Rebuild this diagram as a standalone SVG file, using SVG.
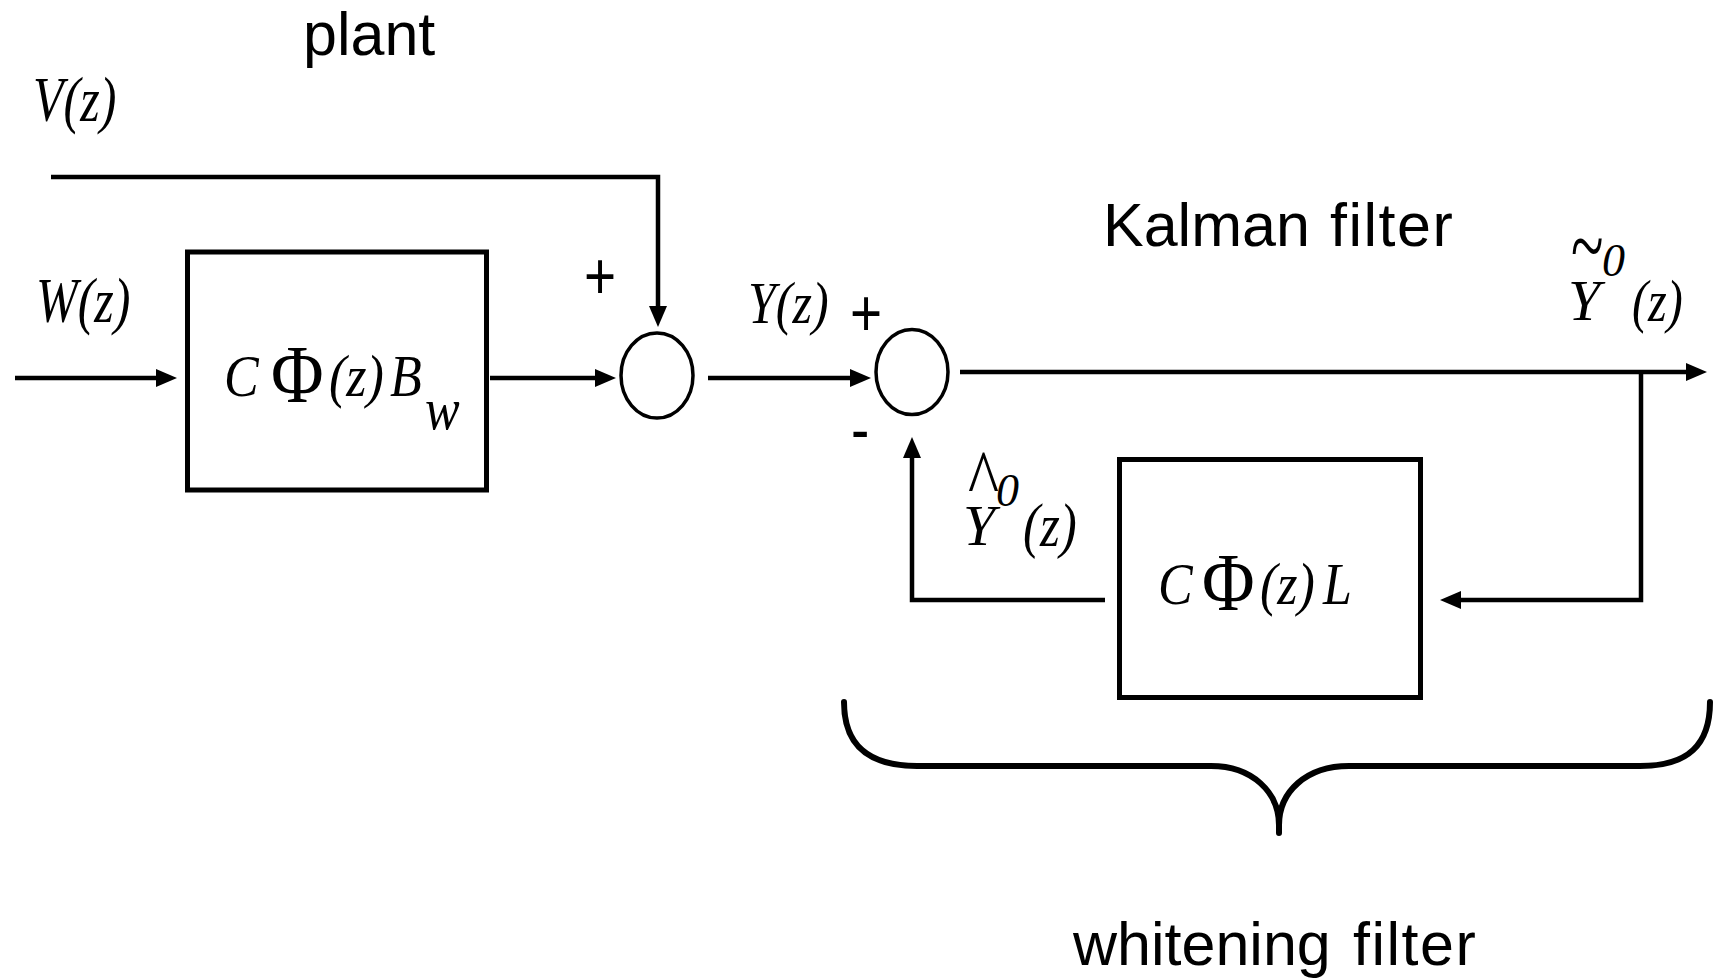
<svg xmlns="http://www.w3.org/2000/svg" width="1716" height="978" viewBox="0 0 1716 978">
<style>
.ln{stroke:#000;stroke-width:4.5;fill:none;stroke-linejoin:miter}
.bx{fill:#fff;stroke:#000;stroke-width:5}
.sum{fill:#fff;stroke:#000;stroke-width:3.5}
.br{fill:none;stroke:#000;stroke-width:6;stroke-linecap:round}
.sans{font-family:"Liberation Sans",Arial,sans-serif;fill:#000}
.m{font-family:"Liberation Serif","Times New Roman",serif;font-style:italic;fill:#000}
.u{font-family:"Liberation Serif","Times New Roman",serif;fill:#000}
</style>
<defs>
<marker id="ah" markerUnits="userSpaceOnUse" markerWidth="22" markerHeight="18" refX="2" refY="9" orient="auto">
<path d="M0,0 L21,9 L0,18 z" fill="#000"/>
</marker>
</defs>
<rect width="1716" height="978" fill="#fff"/>

<g id="connectors">
<path class="ln" d="M15,378 H158" marker-end="url(#ah)"/>
<path class="ln" d="M490,378 H597" marker-end="url(#ah)"/>
<path class="ln" d="M51,177 H658 V308" marker-end="url(#ah)"/>
<path class="ln" d="M708,378 H852" marker-end="url(#ah)"/>
<path class="ln" d="M960,372 H1688" marker-end="url(#ah)"/>
<path class="ln" d="M1641,372 V600 H1459" marker-end="url(#ah)"/>
<path class="ln" d="M1105,600 H912 V456" marker-end="url(#ah)"/>
</g>

<g id="plant-label">
<text class="sans" x="303" y="55" font-size="61">plant</text>
</g>

<g id="V-label">
<text class="m" font-size="50" transform="translate(33,121) scale(1,1.27)">V(z)</text>
</g>
<g id="W-label">
<text class="m" font-size="50" transform="translate(36,322) scale(1,1.25)">W(z)</text>
</g>

<g id="plant-box">
<rect class="bx" x="187.5" y="252" width="299" height="238"/>
<g transform="translate(0,396) scale(1,1.15)">
<text class="m" x="224" y="0" font-size="52">C</text>
<text class="u" x="271" y="5" font-size="72">Φ</text>
<text class="m" x="329" y="0" font-size="52">(z)</text>
<text class="m" x="390" y="0" font-size="52">B</text>
<text class="m" x="425" y="29" font-size="52">w</text>
</g>
</g>

<g id="sum1">
<ellipse class="sum" cx="657" cy="375.5" rx="36" ry="42.5"/>
<text class="sans" font-size="55" text-anchor="middle" transform="translate(600,299) scale(1,1.2)">+</text>
</g>

<g id="Y-label">
<text class="m" font-size="50" transform="translate(748,323) scale(1,1.2)">Y(z)</text>
</g>

<g id="sum2">
<ellipse class="sum" cx="912" cy="372" rx="36" ry="42.5"/>
<text class="sans" font-size="55" text-anchor="middle" transform="translate(866,336) scale(1,1.2)">+</text>
<text class="sans" font-size="55" transform="translate(851,452) scale(1,1.2)">-</text>
</g>

<g id="kalman-label">
<text class="sans" y="246" font-size="61"><tspan x="1103">Kalman</tspan> <tspan x="1330" letter-spacing="1.5">filter</tspan></text>
</g>

<g id="Ytilde-label">
<text class="u" font-size="60" transform="translate(1571,276) scale(1,1.5)">~</text>
<text class="m" x="1602" y="276" font-size="46">0</text>
<text class="m" x="1568" y="320" font-size="58">Y</text>
<text class="m" font-size="48" transform="translate(1632,321) scale(1,1.25)">(z)</text>
</g>

<g id="Yhat-label">
<text class="u" font-size="66" transform="translate(968,507) scale(1,1.25)">^</text>
<text class="m" x="996" y="506" font-size="46">0</text>
<text class="m" x="963" y="545" font-size="58">Y</text>
<text class="m" font-size="51" transform="translate(1023,546) scale(1,1.2)">(z)</text>
</g>

<g id="whitening-box">
<rect class="bx" x="1119.5" y="459.5" width="301" height="238"/>
<g transform="translate(0,604) scale(1,1.15)">
<text class="m" x="1158" y="0" font-size="52">C</text>
<text class="u" x="1202" y="5" font-size="72">Φ</text>
<text class="m" x="1260" y="0" font-size="52">(z)</text>
<text class="m" x="1323" y="0" font-size="52">L</text>
</g>
</g>

<g id="brace">
<path class="br" d="M844,702 C844,745 868,766 917,766 L1211,766 C1252,766 1279,792 1279,825 L1279,833 M1279,825 C1279,792 1306,766 1349,766 L1640,766 C1688,766 1710,745 1710,702"/>
</g>

<g id="whitening-label">
<text class="sans" y="965" font-size="61"><tspan x="1073">whitening</tspan> <tspan x="1353" letter-spacing="1.5">filter</tspan></text>
</g>
</svg>
